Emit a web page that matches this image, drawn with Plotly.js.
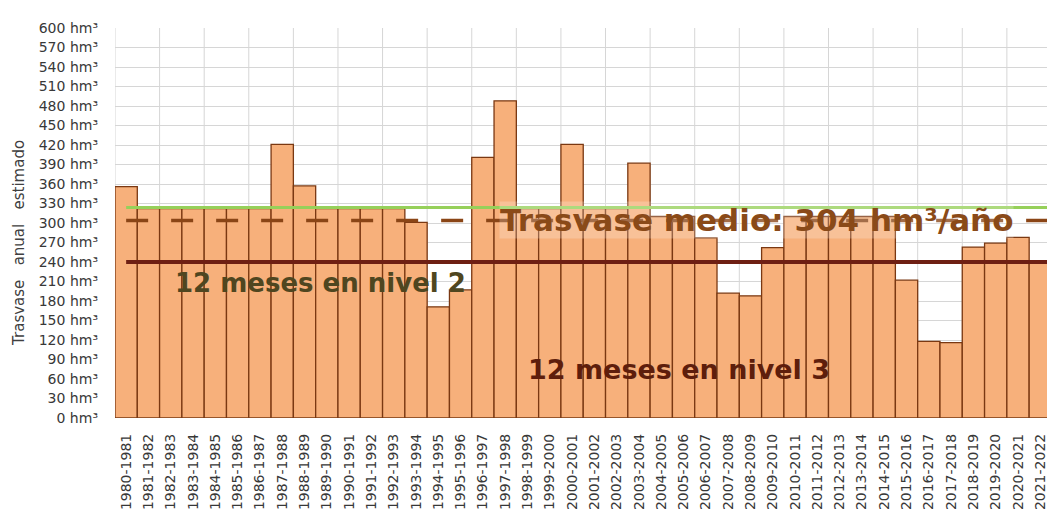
<!DOCTYPE html>
<html>
<head>
<meta charset="utf-8">
<script src="https://cdn.plot.ly/plotly-3.0.1.min.js"></script>
<style>html,body{margin:0;padding:0;background:#fff;}#chart{width:1047px;height:518px;}</style>
</head>
<body>
<div id="chart"></div>
<script>
// Hydrological years
const categories = [
  "1980-1981","1981-1982","1982-1983","1983-1984","1984-1985","1985-1986","1986-1987",
  "1987-1988","1988-1989","1989-1990","1990-1991","1991-1992","1992-1993","1993-1994",
  "1994-1995","1995-1996","1996-1997","1997-1998","1998-1999","1999-2000","2000-2001",
  "2001-2002","2002-2003","2003-2004","2004-2005","2005-2006","2006-2007","2007-2008",
  "2008-2009","2009-2010","2010-2011","2011-2012","2012-2013","2013-2014","2014-2015",
  "2015-2016","2016-2017","2017-2018","2018-2019","2019-2020","2020-2021","2021-2022"
];
// Estimated annual transfer (hm³)
const trasvaseAnual = [
  356, 322, 322, 322, 322, 322, 322,
  421, 357, 322, 322, 322, 322, 301,
  171, 197, 401, 488, 322, 322, 421,
  322, 322, 392, 310, 310, 277, 192,
  188, 262, 310, 310, 310, 310, 310,
  212, 118, 116, 263, 269, 278, 238
];
// Reference levels (hm³/año)
const nivel2Anual = 324;
const trasvaseMedio = 304;
const nivel3Anual = 240;

const yTitle = "Trasvase\u00a0\u00a0\u00a0anual\u00a0\u00a0\u00a0estimado";
const ySuffix = " hm³";
const textoMedio = "Trasvase medio: 304 hm³/año";
const textoNivel2 = "12 meses en nivel 2";
const textoNivel3 = "12 meses en nivel 3";

const bars = {
  type: "bar",
  x: categories,
  y: trasvaseAnual,
  marker: { color: "#F7B07B", line: { color: "#7A3812", width: 1.3 } },
  hoverinfo: "x+y"
};

const shapes = [];
// vertical gridlines every two categories (at boundaries)
for (let i = 0; i <= categories.length; i += 2) {
  shapes.push({ type: "line", layer: "below", xref: "x", yref: "y",
    x0: i - 0.5, x1: i - 0.5, y0: 0, y1: 600,
    line: { color: "#d6d6d6", width: 1 } });
}
shapes.push({ type: "line", xref: "x", yref: "y", x0: 0, x1: categories.length,
  y0: nivel2Anual, y1: nivel2Anual, line: { color: "#96D05A", width: 3 } });
shapes.push({ type: "line", xref: "x", yref: "y", x0: 0, x1: categories.length,
  y0: trasvaseMedio, y1: trasvaseMedio, line: { color: "#8A4516", width: 3.5, dash: "22px,23px" } });
shapes.push({ type: "line", xref: "x", yref: "y", x0: 0, x1: categories.length,
  y0: nivel3Anual, y1: nivel3Anual, line: { color: "#6E1F13", width: 4 } });

const layout = {
  width: 1047, height: 518,
  margin: { l: 115, r: 0, t: 28, b: 100 },
  paper_bgcolor: "#ffffff", plot_bgcolor: "#ffffff",
  showlegend: false,
  bargap: 0,
  font: { family: "DejaVu Sans, Liberation Sans, Arial, sans-serif", color: "#404040" },
  xaxis: {
    type: "category", range: [-0.5, 41.3],
    tickangle: -90, ticks: "", showgrid: false, zeroline: false, showline: false,
    tickfont: { family: "DejaVu Sans", size: 14, color: "#383838" },
    ticklabelstandoff: 12
  },
  yaxis: {
    range: [0, 600], dtick: 30, ticksuffix: ySuffix,
    gridcolor: "#d6d6d6", gridwidth: 1, zeroline: false, showline: false, ticks: "",
    tickfont: { family: "DejaVu Sans", size: 14, color: "#383838" },
    ticklabelstandoff: 16
  },
  shapes: shapes,
  annotations: [
    { xref: "paper", yref: "paper", x: -0.103, y: 0.449, xanchor: "center", yanchor: "middle",
      text: yTitle, textangle: -90,
      showarrow: false, font: { family: "DejaVu Sans", size: 15, color: "#404040" } },
    { xref: "paper", yref: "y", x: 0.688, y: trasvaseMedio + 1, xanchor: "center", yanchor: "middle",
      text: "<b>" + textoMedio + "</b>",
      showarrow: false, bgcolor: "rgba(255,255,255,0.22)", borderpad: 0,
      font: { family: "DejaVu Sans", size: 31, color: "#8A4A18" } },
    { xref: "paper", yref: "y", x: 0.22, y: 208, xanchor: "center", yanchor: "middle",
      text: "<b>" + textoNivel2 + "</b>",
      showarrow: false,
      font: { family: "DejaVu Sans", size: 26, color: "#4F4620" } },
    { xref: "paper", yref: "y", x: 0.605, y: 74, xanchor: "center", yanchor: "middle",
      text: "<b>" + textoNivel3 + "</b>",
      showarrow: false,
      font: { family: "DejaVu Sans", size: 27, color: "#5E1E0C" } }
  ]
};

Plotly.newPlot("chart", [bars], layout, { displayModeBar: false, staticPlot: true });
</script>
</body>
</html>
